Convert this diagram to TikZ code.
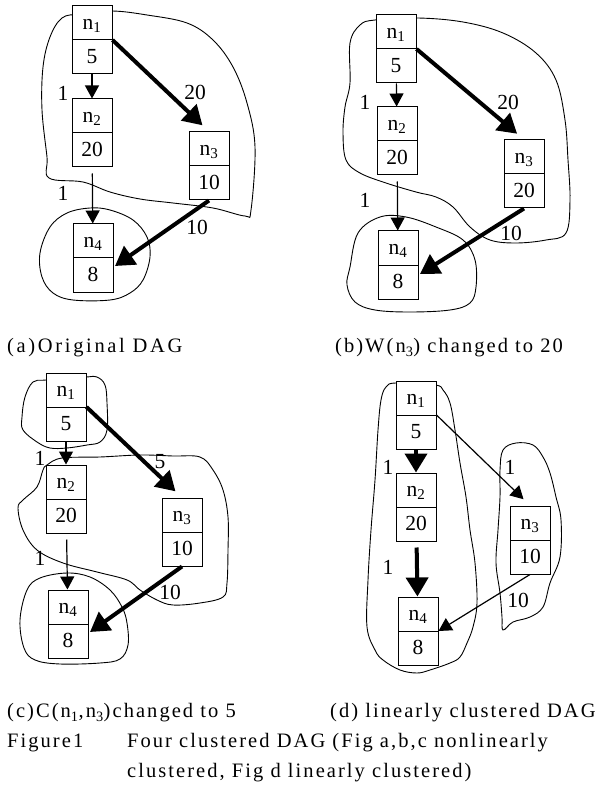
\documentclass[tikz,border=0pt]{standalone}
\usepackage{fontspec}
\setmainfont{Liberation Serif}
\newfontfamily\capfont[LetterSpace=10]{Liberation Serif}
\newfontfamily\capfontwide[LetterSpace=13]{Liberation Serif}
\usetikzlibrary{shapes.multipart,arrows.meta}
\newcommand\cellrule{\rule[-10pt]{0pt}{33pt}}
\newcommand\dagtext[2]{\cellrule n\textsubscript{#1}\nodepart{two}\cellrule #2}
\tikzset{
  dagnode/.style={rectangle split,rectangle split parts=2,draw,fill=white,line width=1pt,
    inner sep=0pt,minimum width=40pt,font=\fontsize{21.5}{24}\selectfont},
  thinarrow/.style={line width=1.2pt,-{Triangle[length=13pt,width=14pt]}},
  thickarrow/.style={line width=4pt,-{Triangle[length=19pt,width=22pt]}},
  cluster/.style={line width=0.9pt},
  weight/.style={font=\fontsize{21.5}{24}\selectfont,inner sep=0pt},
  caption/.style={font=\capfont\fontsize{20.5}{23}\selectfont,anchor=west,inner sep=0pt},
}

\begin{document}
\begin{tikzpicture}[x=1pt,y=-1pt]
  \useasboundingbox (0,0) rectangle (606,791);
  % (a) Original DAG
  \draw[cluster] plot[smooth cycle,tension=0.6] coordinates {(80,14) (62,18) (50,37) (43,67) (42,110) (47,157) (49,178) (83,182) (110,192) (140,199) (173,203) (213,208) (245,216) (251,210) (255,147) (247,103) (233,67) (213,40) (187,23) (147,15) (112,11)};
  \draw[cluster] plot[smooth cycle,tension=0.6] coordinates {(40,253) (50,227) (67,213) (90,208) (110,210) (133,220) (147,237) (150,257) (143,280) (130,293) (110,300) (73,300) (53,293) (42,277)};
  \node at(92,40)[dagnode](a1){\dagtext{1}{5}};
  \node at(92,133)[dagnode](a2){\dagtext{2}{20}};
  \node at(209,166)[dagnode](a3){\dagtext{3}{10}};
  \node at(93,258)[dagnode](a4){\dagtext{4}{8}};
  \coordinate (a4in) at(115,266);
  \draw[thinarrow](a1) -- (a2);
  \draw[thickarrow,shorten >=9pt](a1.text split east) -- (a3.north);
  \draw[thinarrow,shorten <=6pt](a2) -- (a4);
  \draw[thickarrow](a3.south) -- (a4in);
  \node at(63,93)[weight](wa12){1};
  \node at(195,92)[weight](wa13){20};
  \node at(63,193)[weight](wa24){1};
  \node at(197,227)[weight](wa34){10};
  \node at(7,348)[caption,font=\capfontwide\fontsize{20.5}{23}\selectfont](capa){(a)Original DAG};
  % (b) W(n3) changed to 20
  \draw[cluster] plot[smooth cycle,tension=0.6] coordinates {(375,20) (418,18) (463,22) (503,33) (536,53) (556,80) (565,120) (568,160) (570,200) (566,233) (546,240) (516,243) (490,240) (470,227) (453,207) (436,197) (416,192) (386,183) (360,173) (346,160) (343,133) (345,107) (350,83) (350,43) (360,25)};
  \draw[cluster] plot[smooth cycle,tension=0.6] coordinates {(350,267) (358,233) (380,217) (406,217) (436,227) (463,240) (475,260) (476,287) (470,303) (450,310) (410,312) (375,310) (355,302) (347,285)};
  \node at(396,49)[dagnode](b1){\dagtext{1}{5}};
  \node at(397,141)[dagnode](b2){\dagtext{2}{20}};
  \node at(524,174)[dagnode](b3){\dagtext{3}{20}};
  \node at(398,265)[dagnode](b4){\dagtext{4}{8}};
  \coordinate (b4in) at(420,274);
  \draw[thinarrow](b1) -- (b2);
  \draw[thickarrow,shorten >=9pt](b1.text split east) -- (b3.north);
  \draw[thinarrow,shorten <=6pt](b2) -- (b4);
  \draw[thickarrow](b3.south) -- (b4in);
  \node at(365,102)[weight](wb12){1};
  \node at(508,102)[weight](wb13){20};
  \node at(365,200)[weight](wb24){1};
  \node at(511,233)[weight](wb34){10};
  \node at(335,348)[caption](capb){(b)W(n\textsubscript{3}) changed to 20};
  % (c) C(n1,n3) changed to 5
  \draw[cluster] plot[smooth cycle,tension=0.6] coordinates {(46,380) (33,382) (25,397) (22,417) (23,430) (37,442) (50,448) (67,448) (87,445) (100,442) (107,430) (107,403) (105,385) (97,377) (86,377)};
  \draw[cluster] plot[smooth cycle,tension=0.6] coordinates {(47,465) (62,458) (100,457) (140,455) (173,456) (200,457) (213,470) (223,490) (228,517) (228,550) (227,583) (223,597) (200,603) (173,605) (157,600) (140,590) (127,580) (97,572) (63,563) (37,550) (23,530) (18,508) (23,500) (37,487) (43,470)};
  \draw[cluster] plot[smooth cycle,tension=0.6] coordinates {(20,620) (27,590) (40,578) (67,573) (90,577) (110,590) (122,607) (127,623) (128,645) (120,659) (100,663) (60,664) (35,660) (24,648)};
  \node at(66,407)[dagnode](c1){\dagtext{1}{5}};
  \node at(66,499)[dagnode](c2){\dagtext{2}{20}};
  \node at(182,532)[dagnode](c3){\dagtext{3}{10}};
  \node at(68,624)[dagnode](c4){\dagtext{4}{8}};
  \coordinate (c4in) at(90,632);
  \draw[thinarrow](c1) -- (c2);
  \draw[thickarrow,shorten >=9pt](c1.text split east) -- (c3.north);
  \draw[thinarrow,shorten <=6pt](c2) -- (c4);
  \draw[thickarrow](c3.south) -- (c4in);
  \node at(40,458)[weight](wc12){1};
  \node at(160,462)[weight](wc13){5};
  \node at(40,558)[weight](wc24){1};
  \node at(170,592)[weight](wc34){10};
  \node at(7,713)[caption](capc){(c)C(n\textsubscript{1},n\textsubscript{3})changed to 5};
  % (d) linearly clustered DAG
  \draw[cluster] plot[smooth cycle,tension=0.6] coordinates {(396,383) (386,387) (381,400) (378,430) (375,480) (371,530) (368,580) (367,627) (375,650) (383,660) (400,670) (417,673) (430,670) (450,663) (460,657) (467,643) (473,627) (477,603) (475,563) (470,530) (466,497) (460,463) (455,430) (450,403) (443,390) (435,385)};
  \draw[cluster] plot[smooth cycle,tension=0.6] coordinates {(503,450) (516,443) (533,445) (543,457) (550,473) (556,497) (561,520) (560,557) (550,583) (543,607) (530,617) (513,622) (503,630) (502,617) (500,593) (496,563) (498,530) (500,497) (500,470)};
  \node at(416,415)[dagnode](d1){\dagtext{1}{5}};
  \node at(416,507)[dagnode](d2){\dagtext{2}{20}};
  \node at(530,540)[dagnode](d3){\dagtext{3}{10}};
  \node at(418,631)[dagnode](d4){\dagtext{4}{8}};
  \draw[thickarrow](d1) -- (d2);
  \draw[thinarrow,shorten >=9pt](d1.text split east) -- (d3.north);
  \draw[thickarrow,shorten <=6pt](d2) -- (d4);
  \draw[thinarrow](d3.south) -- (d4.east);
  \node at(388,467)[weight](wd12){1};
  \node at(510,467)[weight](wd13){1};
  \node at(388,567)[weight](wd24){1};
  \node at(518,600)[weight](wd34){10};
  \node at(330,713)[caption](capd){(d) linearly clustered DAG};
  % Figure caption
  \node at(7,743)[caption](fig){Figure1};
  \node at(127,743)[caption](figtext){Four clustered DAG (Fig a,b,c nonlinearly};
  \node at(127,773)[caption](figtext2){clustered, Fig d linearly clustered)};
\end{tikzpicture}
\end{document}
